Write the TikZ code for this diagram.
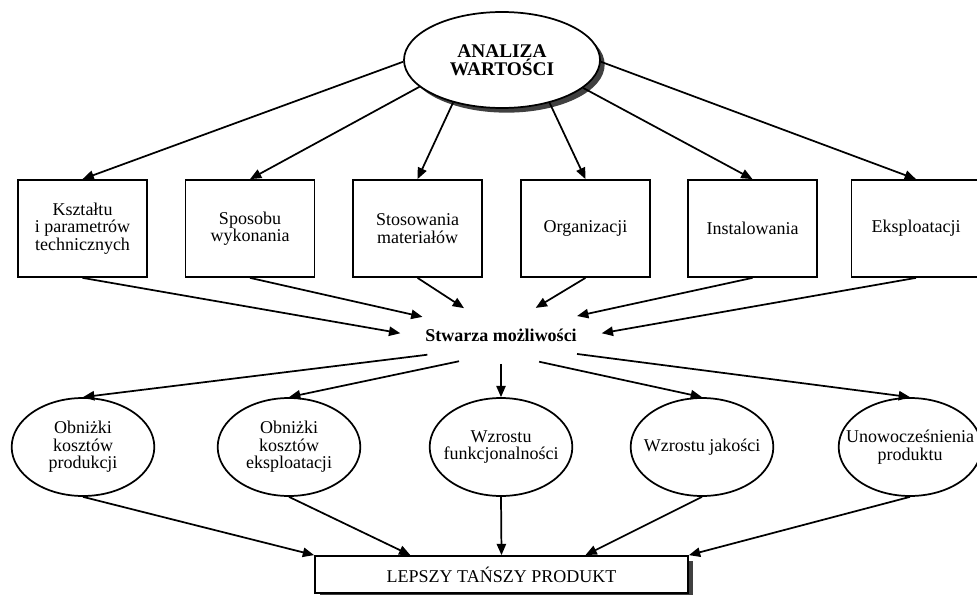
\documentclass[tikz,border=0pt]{standalone}
\usepackage{fontspec}
\setmainfont{Liberation Serif}
\usetikzlibrary{shapes.geometric,arrows.meta,shadows}
\newcommand{\diagfont}{\fontsize{13.5}{13.2}\selectfont}

\begin{document}
\begin{tikzpicture}[x=0.75pt, y=-0.75pt, line width=1.3pt, font=\diagfont,
    >={Triangle[length=8.5pt,width=7pt]},
    box/.style={rectangle, draw, fill=white, align=center, inner sep=2pt,
        minimum width=96.75pt, minimum height=72.75pt},
    oval/.style={ellipse, draw, fill=white, inner sep=0pt,
        minimum width=107pt, minimum height=73.5pt,
        label={[align=center, inner sep=0pt]center:#1}},
    hub/.style={ellipse, inner sep=0pt, minimum width=150pt, minimum height=42pt},
    shade/.style={drop shadow={shadow xshift=3.5pt, shadow yshift=-3.5pt, fill=black!75, opacity=1}}]
        \useasboundingbox (0,0) rectangle (977,595);
        % Root
        \node[ellipse, draw, fill=white, shade, align=center, inner sep=0pt,
            minimum width=147pt, minimum height=72pt,
            font=\fontsize{14.5}{13.5}\selectfont\bfseries]
            (top) at (502,60) {ANALIZA\\WARTOŚCI};
        % Areas of analysis
        \foreach \i/\x/\txt in {1/82.5/{Kształtu\\i parametrów\\technicznych},
                2/250/{Sposobu\\wykonania}, 3/417.5/{Stosowania\\materiałów},
                4/585.5/Organizacji, 5/752.5/Instalowania, 6/916/Eksploatacji} {
            \node[box] (k\i) at (\x,228.5) {\txt};
        }
        \foreach \i/\a in {1/181, 2/198, 3/221, 4/318, 5/341, 6/359} {
            \draw[->] (top.\a) -- (k\i.north);
        }
        % Middle label
        \node[font=\diagfont\bfseries] (mid) at (501,335) {Stwarza możliwości};
        \node[hub] (hub) at (501,335) {};
        \foreach \i/\a in {1/179, 2/167, 3/144, 4/38, 5/14, 6/1} {
            \draw[->] (k\i.south) -- (hub.\a);
        }
        % Effects
        \foreach \i/\x/\txt in {1/83/{Obniżki\\kosztów\\produkcji},
                2/289/{Obniżki\\kosztów\\eksploatacji}, 3/501/{Wzrostu\\funkcjonalności},
                4/702/{Wzrostu jakości}, 5/910/{Unowocześnienia\\produktu}} {
            \node[oval=\txt] (o\i) at (\x,447) {};
        }
        \foreach \i/\a in {1/195, 2/212, 3/270, 4/325, 5/346} {
            \draw[->] (hub.\a) -- (o\i.north);
        }
        % Result
        \node[rectangle, draw, fill=white, shade, minimum width=279.75pt,
            minimum height=27.75pt] (res) at (501.5,574.5) {LEPSZY TAŃSZY PRODUKT};
        \draw[->] (o1.south) -- (res.north west);
        \draw[->] (o2.south) -- (res.168);
        \draw[->] (o3.south) -- (res.north);
        \draw[->] (o4.south) -- (res.13);
        \draw[->] (o5.south) -- (res.north east);
\end{tikzpicture}
\end{document}
